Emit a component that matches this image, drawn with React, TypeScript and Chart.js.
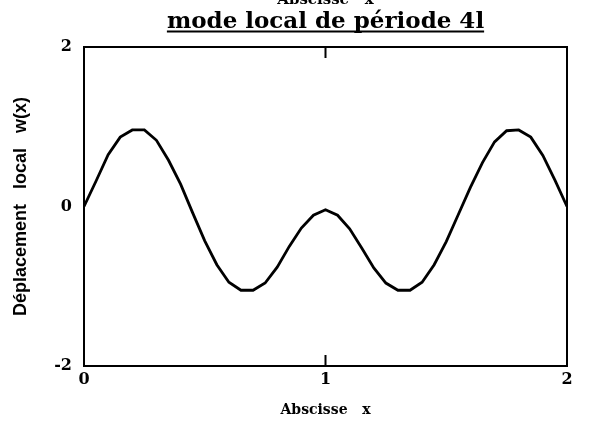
import React, { useEffect, useRef } from "react";
import { Chart, registerables } from "chart.js";

Chart.register(...registerables);

const chartTitle = "mode local de période 4l";
const topCutText = "Abscisse   x";
const xAxisTitle = "Abscisse   x";
const yAxisTitle = "Déplacement   local   w(x)";

const xValues = [
  0, 0.05, 0.1, 0.15, 0.2, 0.25, 0.3, 0.35, 0.4, 0.45, 0.5, 0.55, 0.6, 0.65, 0.7, 0.75, 0.8, 0.85, 0.9, 0.95,
  1.0, 1.05, 1.1, 1.15, 1.2, 1.25, 1.3, 1.35, 1.4, 1.45, 1.5, 1.55, 1.6, 1.65, 1.7, 1.75, 1.8, 1.85, 1.9, 1.95, 2.0,
];
const wValues = [
  0, 0.32, 0.65, 0.87, 0.96, 0.96, 0.83, 0.58, 0.28, -0.08, -0.43, -0.73, -0.95, -1.05, -1.05, -0.96, -0.76, -0.5, -0.27, -0.11,
  -0.04, -0.11, -0.28, -0.52, -0.77, -0.96, -1.05, -1.05, -0.95, -0.73, -0.44, -0.1, 0.24, 0.55, 0.81, 0.95, 0.96, 0.87, 0.64, 0.33, 0,
];
const xTicks = [0, 1, 2];
const yTicks = [-2, 0, 2];

const SERIF = "'DejaVu Serif', 'Liberation Serif', serif";
const SANS = "'Liberation Sans', Arial, sans-serif";

const framePlugin = {
  id: "frame",
  afterDraw(chart: any) {
    const { ctx, chartArea } = chart;
    const xs = chart.scales.x;
    ctx.save();
    ctx.strokeStyle = "#000";
    ctx.lineWidth = 2;
    ctx.strokeRect(chartArea.left, chartArea.top, chartArea.right - chartArea.left, chartArea.bottom - chartArea.top);
    // inward tick at x = 1 on top and bottom
    const px = xs.getPixelForValue(1);
    ctx.beginPath();
    ctx.moveTo(px, chartArea.top);
    ctx.lineTo(px, chartArea.top + 11);
    ctx.moveTo(px, chartArea.bottom);
    ctx.lineTo(px, chartArea.bottom - 11);
    ctx.stroke();

    const cx = (chartArea.left + chartArea.right) / 2;
    // clipped text at very top
    ctx.fillStyle = "#000";
    ctx.textAlign = "center";
    ctx.textBaseline = "alphabetic";
    ctx.font = `bold 15px ${SERIF}`;
    ctx.fillText(topCutText, cx, 4);
    // title with underline
    ctx.font = `bold 23px ${SERIF}`;
    ctx.fillText(chartTitle, cx, 28);
    const w = ctx.measureText(chartTitle).width;
    ctx.fillRect(cx - w / 2, 30.5, w, 2);
    ctx.restore();
  },
};

export default function App() {
  const ref = useRef<HTMLCanvasElement | null>(null);
  useEffect(() => {
    if (!ref.current) return;
    const data = xValues.map((x, i) => ({ x, y: wValues[i] }));
    const chart = new Chart(ref.current, {
      type: "line",
      data: {
        datasets: [
          {
            data,
            borderColor: "#000",
            borderWidth: 2.8,
            pointRadius: 0,
            tension: 0,
            fill: false,
          },
        ],
      },
      options: {
        animation: false,
        responsive: false,
        maintainAspectRatio: false,
        layout: { padding: { left: 0, right: 22, top: 47, bottom: 0 } },
        plugins: { legend: { display: false }, title: { display: false }, tooltip: { enabled: false } },
        scales: {
          x: {
            type: "linear",
            min: 0,
            max: 2,
            afterBuildTicks: (s: any) => {
              s.ticks = xTicks.map((v) => ({ value: v }));
            },
            afterFit: (s: any) => {
              s.height = 56;
            },
            grid: { display: false, drawTicks: false },
            border: { display: false },
            ticks: {
              padding: 4,
              color: "#000",
              font: { family: SERIF, size: 16, weight: "bold" },
              maxRotation: 0,
            },
            title: {
              display: true,
              text: xAxisTitle,
              color: "#000",
              font: { family: SERIF, size: 14, weight: "bold" },
              padding: { top: 0, bottom: 3 },
            },
          },
          y: {
            type: "linear",
            min: -2,
            max: 2,
            afterBuildTicks: (s: any) => {
              s.ticks = yTicks.map((v) => ({ value: v }));
            },
            afterFit: (s: any) => {
              s.width = 84;
            },
            grid: { display: false, drawTicks: false },
            border: { display: false },
            ticks: {
              padding: 12,
              color: "#000",
              font: { family: SERIF, size: 16, weight: "bold" },
            },
            title: {
              display: true,
              text: yAxisTitle,
              color: "#000",
              font: { family: SANS, size: 18, weight: "bold" },
              padding: { top: 10, bottom: 0 },
            },
          },
        },
      },
      plugins: [framePlugin],
    });
    return () => chart.destroy();
  }, []);
  return (
    <div style={{ position: "absolute", left: 0, top: 0, width: 589, height: 422, background: "#fff" }}>
      <canvas ref={ref} width={589} height={422} style={{ width: 589, height: 422 }} />
    </div>
  );
}
